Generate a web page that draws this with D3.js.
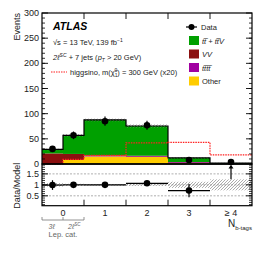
<!DOCTYPE html>
<html>
<head>
<meta charset="utf-8">
<script src="https://cdn.jsdelivr.net/npm/d3@7"></script>
<style>
  body { margin: 0; background: #fff; }
  text { font-family: "Liberation Sans", Arial, sans-serif; }
</style>
</head>
<body>
<div id="chart"></div>
<script>
// bin edges: first bin (0) is split in 3l / 2lSC
var edges = [-0.5, 0, 0.5, 1.5, 2.5, 3.5, 4.5];
var tickLabels = ["0", "1", "2", "3", "\u2265 4"];
var tickPos = [0, 1, 2, 3, 4];

// stacked backgrounds, bottom -> top
var other = [0, 8, 15, 14, 2, 0.3];
var tttt  = [0, 0, 1.5, 1.5, 1.5, 0.4];
var vv    = [21, 12, 1, 1, 0.5, 0.2];
var ttv   = [8, 37, 70, 59, 8, 1.1];
var relErr = [0.05, 0.04, 0.03, 0.04, 0.12, 0.25];

var dataVals = [30, 57, 85, 77, 8, 4];
var signal = [0, 9, 17, 42, 43, 18];

var ratio    = [0.99, 1.0, 1.0, 1.07, 0.74, null];
var ratioErr = [0.22, 0.13, 0.1, 0.11, 0.3, 0];
var bandErr  = [0.08, 0.05, 0.04, 0.05, 0.14, 0.25];

var width = 266, height = 253,
    left = 42, right = 252,
    mainTop = 13, mainBot = 164, ratBot = 205.7;

var svg = d3.select("#chart").append("svg")
    .attr("width", width).attr("height", height);

var defs = svg.append("defs");
var pat = defs.append("pattern").attr("id", "hatch")
    .attr("patternUnits", "userSpaceOnUse").attr("width", 3).attr("height", 3);
pat.append("path").attr("d", "M-1,1 l2,-2 M0,3 l3,-3 M2,4 l2,-2")
    .attr("stroke", "#8a8a8a").attr("stroke-width", 0.7);

var x = d3.scaleLinear().domain([-0.5, 4.5]).range([left, right]);
var y = d3.scaleLinear().domain([0, 300]).range([mainBot, mainTop]);
var yr = d3.scaleLinear().domain([0.05, 1.95]).range([ratBot, mainBot]);

var colors = { other: "#ffcc00", tttt: "#a000a0", vv: "#8b1010", ttv: "#00a000" };
var series = [
  { key: "other", vals: other },
  { key: "tttt", vals: tttt },
  { key: "vv", vals: vv },
  { key: "ttv", vals: ttv }
];

var nb = dataVals.length;
var totals = d3.range(nb).map(function(i) {
  return other[i] + tttt[i] + vv[i] + ttv[i];
});

// stacked bars
var g = svg.append("g");
var base = d3.range(nb).map(function() { return 0; });
series.forEach(function(s) {
  g.selectAll(null).data(s.vals).enter().append("rect")
    .attr("x", function(d, i) { return x(edges[i]); })
    .attr("width", function(d, i) { return x(edges[i + 1]) - x(edges[i]); })
    .attr("y", function(d, i) { return y(base[i] + d); })
    .attr("height", function(d, i) { return y(base[i]) - y(base[i] + d); })
    .attr("fill", colors[s.key]);
  s.vals.forEach(function(v, i) { base[i] += v; });
});

// uncertainty band on total
g.selectAll(null).data(totals).enter().append("rect")
  .attr("x", function(d, i) { return x(edges[i]); })
  .attr("width", function(d, i) { return x(edges[i + 1]) - x(edges[i]); })
  .attr("y", function(d, i) { return y(d * (1 + relErr[i])); })
  .attr("height", function(d, i) { return y(d * (1 - relErr[i])) - y(d * (1 + relErr[i])); })
  .attr("fill", "url(#hatch)");

// total outline
var totLine = [];
totals.forEach(function(t, i) { totLine.push([edges[i], t], [edges[i + 1], t]); });
g.append("path")
  .attr("d", d3.line().x(function(d) { return x(d[0]); }).y(function(d) { return y(d[1]); })(totLine))
  .attr("fill", "none").attr("stroke", "#000").attr("stroke-width", 1.2);

// signal histogram
var sigLine = [];
signal.forEach(function(s, i) { sigLine.push([edges[i], s], [edges[i + 1], s]); });
g.append("path")
  .attr("d", d3.line().x(function(d) { return x(d[0]); }).y(function(d) { return y(d[1]); })(sigLine))
  .attr("fill", "none").attr("stroke", "#ff2020").attr("stroke-width", 1.2)
  .attr("stroke-dasharray", "1.5,1");

// bottom line at zero
g.append("line").attr("x1", left).attr("x2", right).attr("y1", y(0)).attr("y2", y(0))
  .attr("stroke", "#000").attr("stroke-width", 1.2);

// data points
var centers = d3.range(nb).map(function(i) { return (edges[i] + edges[i + 1]) / 2; });
var dg = svg.append("g");
dataVals.forEach(function(d, i) {
  var e = Math.sqrt(d);
  dg.append("line").attr("x1", x(centers[i])).attr("x2", x(centers[i]))
    .attr("y1", y(d + e)).attr("y2", Math.min(y(Math.max(d - e, 0)), mainBot))
    .attr("stroke", "#000").attr("stroke-width", 1.2);
  dg.append("circle").attr("cx", x(centers[i])).attr("cy", y(d)).attr("r", 3.3).attr("fill", "#000");
});

// ratio panel
var rg = svg.append("g");
[0.5, 1, 1.5].forEach(function(v) {
  rg.append("line").attr("x1", left).attr("x2", right).attr("y1", yr(v)).attr("y2", yr(v))
    .attr("stroke", "#999").attr("stroke-width", 0.8).attr("stroke-dasharray", "2,1.5");
});
rg.selectAll(null).data(bandErr).enter().append("rect")
  .attr("x", function(d, i) { return x(edges[i]); })
  .attr("width", function(d, i) { return x(edges[i + 1]) - x(edges[i]); })
  .attr("y", function(d) { return yr(1 + d); })
  .attr("height", function(d) { return yr(1 - d) - yr(1 + d); })
  .attr("fill", "url(#hatch)");
ratio.forEach(function(r, i) {
  var cx = x(centers[i]);
  if (r === null) {
    // out of range: arrow
    rg.append("line").attr("x1", cx).attr("x2", cx).attr("y1", yr(1.25)).attr("y2", yr(1.85))
      .attr("stroke", "#000").attr("stroke-width", 1.2);
    rg.append("path").attr("d", d3.line()([[cx - 2.5, yr(1.75)], [cx, yr(1.92)], [cx + 2.5, yr(1.75)]]) + "Z")
      .attr("fill", "#000");
    return;
  }
  rg.append("line").attr("x1", x(edges[i])).attr("x2", x(edges[i + 1]))
    .attr("y1", yr(r)).attr("y2", yr(r)).attr("stroke", "#000").attr("stroke-width", 1.2);
  rg.append("line").attr("x1", cx).attr("x2", cx)
    .attr("y1", yr(r + ratioErr[i])).attr("y2", yr(r - ratioErr[i]))
    .attr("stroke", "#000").attr("stroke-width", 1.2);
  rg.append("circle").attr("cx", cx).attr("cy", yr(r)).attr("r", 3.3).attr("fill", "#000");
});

// frames
svg.append("rect").attr("x", left).attr("y", mainTop).attr("width", right - left).attr("height", mainBot - mainTop)
  .attr("fill", "none").attr("stroke", "#000").attr("stroke-width", 1.2);
svg.append("rect").attr("x", left).attr("y", mainBot).attr("width", right - left).attr("height", ratBot - mainBot)
  .attr("fill", "none").attr("stroke", "#000").attr("stroke-width", 1.2);

// y axes (main)
function yTicks(scale, major, minor, xpos, dir, labels) {
  var ax = svg.append("g");
  minor.forEach(function(v) {
    ax.append("line").attr("x1", xpos).attr("x2", xpos + dir * 3)
      .attr("y1", scale(v)).attr("y2", scale(v)).attr("stroke", "#000").attr("stroke-width", 0.8);
  });
  major.forEach(function(v) {
    ax.append("line").attr("x1", xpos).attr("x2", xpos + dir * 6)
      .attr("y1", scale(v)).attr("y2", scale(v)).attr("stroke", "#000").attr("stroke-width", 0.9);
    if (labels) ax.append("text").attr("x", xpos - 3).attr("y", scale(v)).attr("dy", "0.35em")
      .attr("text-anchor", "end").attr("font-size", 9).attr("fill", "#222").text(d3.format("")(v));
  });
}
var mainMajor = d3.range(50, 301, 50);
var mainMinor = d3.range(10, 300, 10);
yTicks(y, mainMajor, mainMinor, left, 1, true);
yTicks(y, mainMajor, mainMinor, right, -1, false);
svg.append("text").attr("x", left - 3).attr("y", y(0)).attr("dy", "0.35em")
  .attr("text-anchor", "end").attr("font-size", 9).attr("fill", "#222").text("0");

var rMinor = d3.range(0.1, 1.95, 0.1);
yTicks(yr, [0.5, 1, 1.5], rMinor, left, 1, false);
yTicks(yr, [0.5, 1, 1.5], rMinor, right, -1, false);
[["0.5", 0.5], ["1", 1], ["1.5", 1.5]].forEach(function(t) {
  svg.append("text").attr("x", left - 3).attr("y", yr(t[1])).attr("dy", "0.35em")
    .attr("text-anchor", "end").attr("font-size", 9).attr("fill", "#222").text(t[0]);
});

// x ticks at bin boundaries
[0.5, 1.5, 2.5, 3.5].forEach(function(v) {
  svg.append("line").attr("x1", x(v)).attr("x2", x(v)).attr("y1", mainTop).attr("y2", mainTop + 6)
    .attr("stroke", "#000").attr("stroke-width", 0.9);
  svg.append("line").attr("x1", x(v)).attr("x2", x(v)).attr("y1", ratBot).attr("y2", ratBot - 6)
    .attr("stroke", "#000").attr("stroke-width", 0.9);
});
tickPos.forEach(function(v, i) {
  svg.append("text").attr("x", x(v)).attr("y", 216).attr("text-anchor", "middle")
    .attr("font-size", 9).attr("fill", "#222").text(tickLabels[i]);
});

// lepton category bracket
var bk = svg.append("g").attr("stroke", "#777").attr("stroke-width", 0.8);
bk.append("line").attr("x1", x(-0.5)).attr("x2", x(0.5)).attr("y1", 220).attr("y2", 220);
[-0.5, 0, 0.5].forEach(function(v) {
  bk.append("line").attr("x1", x(v)).attr("x2", x(v)).attr("y1", 220).attr("y2", 217);
});
svg.append("text").attr("x", x(-0.27)).attr("y", 228.5).attr("text-anchor", "middle")
  .attr("font-size", 7).attr("fill", "#666").attr("font-style", "italic").text("3\u2113");
var t2l = svg.append("text").attr("x", 68).attr("y", 228.5)
  .attr("font-size", 7).attr("fill", "#666").attr("font-style", "italic");
t2l.append("tspan").text("2\u2113");
t2l.append("tspan").attr("dy", -3).attr("font-size", 4.5).text("SC");
svg.append("text").attr("x", x(0)).attr("y", 237).attr("text-anchor", "middle")
  .attr("font-size", 7.5).attr("fill", "#666").text("Lep. cat.");

// x title
var xt = svg.append("text").attr("x", 228).attr("y", 227).attr("font-size", 10).attr("fill", "#222");
xt.append("tspan").text("N");
xt.append("tspan").attr("dy", 3).attr("font-size", 6).text("b-tags");

// y titles
svg.append("text").attr("transform", "translate(20," + mainTop + ") rotate(-90)")
  .attr("text-anchor", "end").attr("font-size", 9).attr("fill", "#222").text("Events");
svg.append("text").attr("transform", "translate(20," + ((mainBot + ratBot) / 2 + 1) + ") rotate(-90)")
  .attr("text-anchor", "middle").attr("font-size", 9).attr("fill", "#222").text("Data/Model");

// labels
svg.append("text").attr("x", 53).attr("y", 30).attr("font-size", 10.5).attr("font-weight", "bold")
  .attr("font-style", "italic").text("ATLAS");
var l1 = svg.append("text").attr("x", 53).attr("y", 45).attr("font-size", 7.5).attr("fill", "#222");
l1.append("tspan").text("\u221As = 13 TeV, 139 fb");
l1.append("tspan").attr("dy", -3).attr("font-size", 5).text("\u22121");
var l2 = svg.append("text").attr("x", 53).attr("y", 60).attr("font-size", 7.5).attr("fill", "#222");
l2.append("tspan").attr("font-style", "italic").text("2\u2113");
l2.append("tspan").attr("dy", -3).attr("font-size", 5).attr("font-style", "italic").text("SC");
l2.append("tspan").attr("dy", 3).text(" + 7 jets (");
l2.append("tspan").attr("font-style", "italic").text("p");
l2.append("tspan").attr("dy", 2).attr("font-size", 5).attr("font-style", "italic").text("T");
l2.append("tspan").attr("dy", -2).text(" > 20 GeV)");

svg.append("line").attr("x1", 51).attr("x2", 67).attr("y1", 72).attr("y2", 72)
  .attr("stroke", "#ff2020").attr("stroke-width", 1.2).attr("stroke-dasharray", "1.5,1");
var l3 = svg.append("text").attr("x", 70).attr("y", 75).attr("font-size", 7.5).attr("fill", "#222");
l3.append("tspan").text("higgsino, m(\u03C7\u0303");
l3.append("tspan").attr("dy", 2).attr("font-size", 5).text("1");
l3.append("tspan").attr("dy", -5).attr("dx", -3).attr("font-size", 5).text("0");
l3.append("tspan").attr("dy", 3).text(") = 300 GeV (x20)");

// legend
var leg = svg.append("g");
leg.append("line").attr("x1", 186).attr("x2", 197).attr("y1", 27).attr("y2", 27)
  .attr("stroke", "#000").attr("stroke-width", 1.2);
leg.append("circle").attr("cx", 191.5).attr("cy", 27).attr("r", 3).attr("fill", "#000");
leg.append("text").attr("x", 201).attr("y", 30).attr("font-size", 7.5).attr("fill", "#222").text("Data");
var legKeys = ["ttv", "vv", "tttt", "other"];
var legLabels = ["tt\u0305 + tt\u0305V", "VV", "tt\u0305tt\u0305", "Other"];
var legItalic = [true, true, true, false];
legKeys.forEach(function(k, i) {
  var cy = 40.5 + i * 13.5;
  leg.append("rect").attr("x", 189).attr("y", cy - 4.5).attr("width", 10).attr("height", 9)
    .attr("fill", colors[k]);
  leg.append("text").attr("x", 202).attr("y", cy + 3).attr("font-size", 7.5).attr("fill", "#222")
    .attr("font-style", legItalic[i] ? "italic" : "normal").text(legLabels[i]);
});
</script>
</body>
</html>
